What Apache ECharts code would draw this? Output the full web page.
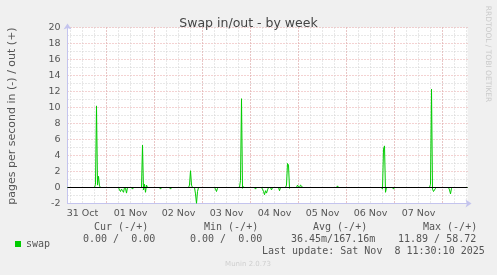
<!DOCTYPE html>
<html>
<head>
<meta charset="utf-8">
<script src="https://cdn.jsdelivr.net/npm/echarts@6/dist/echarts.min.js"></script>
<style>html,body{margin:0;padding:0;background:#f0f0f0;}#c{width:497px;height:275px;}</style>
</head>
<body>
<div id="c"></div>
<script>
// hours since 31 Oct 00:00
var swapHours = [4.5, 18.0, 18.5, 19.0, 19.5, 20.0, 20.5, 21.0,
  30.0, 30.5, 31.0, 31.5, 32.0, 32.5, 33.0, 33.5, 34.0, 34.5,
  36.5, 37.0, 37.5,
  41.5, 42.0, 42.5, 43.0, 43.5, 44.0, 44.5,
  50.5, 51.0, 51.5, 55.5, 56.0, 56.5,
  65.0, 65.5, 66.0, 66.5, 67.0,
  68.0, 68.5, 69.0, 69.5, 70.0,
  78.0, 78.5, 79.0, 79.5, 80.0,
  90.5, 91.0, 91.5, 92.0, 92.5, 93.0,
  98.0, 98.5, 99.0,
  101.5, 102.0, 102.5, 103.0, 103.5, 104.0, 104.5, 105.0,
  106.0, 106.5, 107.0, 110.0, 110.5, 111.0,
  113.5, 114.0, 114.5, 115.0, 115.5, 116.0,
  119.0, 119.5, 120.0, 120.5, 121.0, 121.5, 122.0,
  139.0, 139.5, 140.0,
  161.5, 162.0, 162.5, 163.0, 163.5, 164.0,
  167.0, 167.5, 168.0,
  185.5, 186.0, 186.5, 187.0, 187.5, 188.0, 188.5, 189.0,
  195.0, 195.5, 196.0, 196.5, 197.0,
  204.5];
var swapValues = [0, 0, 0.4, 10.2, 0.3, 1.4, 0.2, 0,
  0, -0.3, -0.5, -0.2, -0.4, -0.6, 0, -0.1, -0.7, 0,
  0, -0.2, 0,
  0, 5.3, -0.3, 0.4, -0.6, 0.3, 0,
  0, -0.2, 0, 0, -0.2, 0,
  0, 0.3, 2.1, 0.3, 0,
  0, -0.8, -2.0, -0.5, 0,
  0, -0.2, -0.5, -0.1, 0,
  0, 0.9, 11.1, -0.1, 0.1, 0,
  0, -0.2, 0,
  0, -0.2, -0.5, -0.9, -0.4, -0.7, -0.3, 0,
  0, -0.3, 0, 0, -0.4, 0,
  0, 0.3, 3.0, 2.8, -0.1, 0,
  0, 0.3, 0.1, 0, 0.3, 0.2, 0,
  0, 0.2, 0,
  0, -0.2, 4.8, 5.2, -0.6, 0,
  0, -0.2, 0,
  0, 0.4, 12.3, -0.2, -0.5, -0.3, -0.1, 0,
  0, -0.3, -0.8, -0.1, 0,
  0];
var dayLabels = ['31 Oct', '01 Nov', '02 Nov', '03 Nov', '04 Nov', '05 Nov', '06 Nov', '07 Nov'];
var statHeaders = ['Cur (-/+)', 'Min (-/+)', 'Avg (-/+)', 'Max (-/+)'];
var statValues = ['0.00 /  0.00', '0.00 /  0.00', '36.45m/167.16m', '11.89 / 58.72'];
var lastUpdate = 'Last update: Sat Nov  8 11:30:10 2025';
var zeroLine = [[4.5, 0], [204.5, 0]];

// segments between consecutive samples: [h0, v0, h1, v1]
var segments = [];
for (var i = 1; i < swapHours.length; i++) {
  segments.push([swapHours[i - 1], swapValues[i - 1], swapHours[i], swapValues[i]]);
}
var SANS = 'DejaVu Sans', MONO = 'DejaVu Sans Mono';
var RED = '#e8a4a4', GRAY = '#d0d0d0', AXIS = '#c4c4ee', TXT = '#555', GREEN = '#00cc00';
var headerX = [94, 204, 313, 423];
var valueX = [83, 190, 291, 398];
var graphics = [];
statHeaders.forEach(function (t, i) {
  graphics.push({type: 'text', left: headerX[i], top: 222, style: {text: t, font: '10px ' + MONO, fill: TXT}});
});
statValues.forEach(function (t, i) {
  graphics.push({type: 'text', left: valueX[i], top: 234, style: {text: t, font: '10px ' + MONO, fill: TXT}});
});
graphics.push({type: 'text', left: 262, top: 246, style: {text: lastUpdate, font: '10px ' + MONO, fill: TXT}});
graphics.push({type: 'text', x: 248, y: 264.5, style: {text: 'Munin 2.0.73', font: '7px ' + SANS, fill: '#cfcfcf', align: 'center', verticalAlign: 'middle'}});
graphics.push({type: 'text', x: 488, y: 54, rotation: -Math.PI / 2, style: {text: 'RRDTOOL / TOBI OETIKER', font: '7.5px ' + SANS, fill: '#cacaca', align: 'center', verticalAlign: 'middle'}});
graphics.push({type: 'text', x: 12, y: 116, rotation: Math.PI / 2, style: {text: 'pages per second in (-) / out (+)', font: '11px ' + SANS, fill: TXT, align: 'center', verticalAlign: 'middle'}});

var chart = echarts.init(document.getElementById('c'), null, {renderer: 'canvas'});
chart.setOption({
  backgroundColor: '#f0f0f0',
  animation: false,
  title: {text: 'Swap in/out - by week', left: 'center', top: 12,
    textStyle: {fontFamily: SANS, fontSize: 12.5, fontWeight: 'normal', color: '#444'}},
  legend: {data: ['swap'], left: 10, top: 234, icon: 'rect', itemWidth: 6, itemHeight: 6, itemGap: 5,
    textStyle: {fontFamily: MONO, fontSize: 10, color: TXT}},
  grid: [
    {left: 67.5, right: 29.5, top: 27.5, bottom: 71.5, show: true, backgroundColor: '#fff', borderWidth: 0},
    {left: 58.5, right: 29.5, top: 27.5, bottom: 71.5}
  ],
  xAxis: [
    {type: 'value', gridIndex: 0, min: 4.5, max: 204.5, axisLabel: {show: false}, axisTick: {show: false},
      splitLine: {show: false},
      axisLine: {show: true, onZero: false, lineStyle: {color: AXIS, width: 1}, symbol: ['none', 'arrow'], symbolSize: [6, 6], symbolOffset: [0, 4]}},
    {type: 'value', gridIndex: 1, min: 0, max: 204.5, interval: 6, axisLine: {show: false}, axisTick: {show: false},
      axisLabel: {show: true, margin: 5, fontFamily: SANS, fontSize: 9.5, color: TXT, showMinLabel: false, showMaxLabel: false,
        formatter: function (v) { return (v % 24 === 12) ? dayLabels[Math.floor(v / 24)] : ''; }},
      splitLine: {show: true, showMinLine: false, showMaxLine: false, lineStyle: {color: GRAY, type: [1, 2], width: 1}}},
    {type: 'value', gridIndex: 1, min: 0, max: 204.5, interval: 24, axisLine: {show: false}, axisTick: {show: false},
      axisLabel: {show: false},
      splitLine: {show: true, showMinLine: false, showMaxLine: false, lineStyle: {color: RED, type: [1, 2], width: 1}}}
  ],
  yAxis: [
    {type: 'value', gridIndex: 0, min: -2, max: 20, interval: 1,
      axisLine: {show: true, onZero: false, lineStyle: {color: AXIS, width: 1}, symbol: ['none', 'arrow'], symbolSize: [6, 6], symbolOffset: [0, 4]},
      axisTick: {show: false},
      axisLabel: {margin: 7, fontFamily: SANS, fontSize: 9.5, color: TXT,
        formatter: function (v) { return (Math.abs(v) % 2 === 0) ? String(v) : ''; }},
      splitLine: {show: true, lineStyle: {color: [RED, GRAY], type: [1, 2], width: 1}}},
    {type: 'value', gridIndex: 1, min: -2, max: 20, show: false, splitLine: {show: false}}
  ],
  series: [{
    name: 'swap', type: 'custom', xAxisIndex: 0, yAxisIndex: 0, data: segments, z: 2, clip: true,
    itemStyle: {color: GREEN},
    encode: {x: [0, 2], y: [1, 3]},
    renderItem: function (params, api) {
      var p1 = api.coord([api.value(0), api.value(1)]);
      var p2 = api.coord([api.value(2), api.value(3)]);
      return {type: 'line', shape: {x1: p1[0], y1: p1[1], x2: p2[0], y2: p2[1]},
        style: {stroke: GREEN, lineWidth: 1, fill: null}};
    }
  }, {
    name: 'zero', type: 'line', xAxisIndex: 0, yAxisIndex: 0, data: zeroLine, z: 5,
    smooth: false, showSymbol: false, symbol: 'none', color: '#000', silent: true,
    lineStyle: {color: '#000', width: 1}
  }],
  graphic: graphics
});
</script>
</body>
</html>
